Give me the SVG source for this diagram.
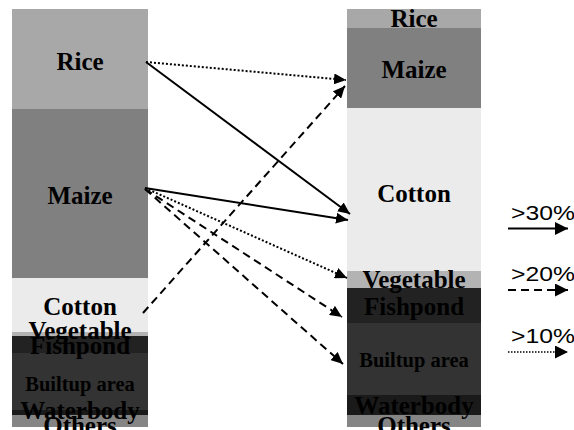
<svg xmlns="http://www.w3.org/2000/svg" width="574" height="430" viewBox="0 0 574 430">
<style>
.lbl{font-family:"Liberation Serif","Times New Roman",serif;font-weight:bold;font-size:25px;text-anchor:middle;fill:#000}
.sm{font-size:20.5px}
.leg{font-family:"Liberation Sans",Arial,sans-serif;font-size:21px;fill:#000}
.solid{stroke:#000;stroke-width:2;fill:none}
.dash{stroke:#000;stroke-width:2;fill:none;stroke-dasharray:8 5}
.dot{stroke:#000;stroke-width:2;fill:none;stroke-dasharray:2 2}
.ldot{stroke:#000;stroke-width:1.5;fill:none;stroke-dasharray:1.5 1.5}
</style>
<defs>
<marker id="ah" markerUnits="userSpaceOnUse" markerWidth="13" markerHeight="11" refX="12" refY="5.5" orient="auto">
<path d="M0,0 L12,5.5 L0,11 z" fill="#000"/>
</marker>
<marker id="lah" markerUnits="userSpaceOnUse" markerWidth="14" markerHeight="13" refX="13" refY="6.5" orient="auto">
<path d="M0,0 L13,6.5 L0,13 z" fill="#000"/>
</marker>
</defs>
<rect width="574" height="430" fill="#fff"/>
<g id="left-bar">
<g id="L-rice"><rect x="12" y="9" width="136" height="100" fill="#a8a8a8"/><text class="lbl" x="80" y="70">Rice</text></g>
<g id="L-maize"><rect x="12" y="109" width="136" height="169" fill="#808080"/><text class="lbl" x="80" y="204">Maize</text></g>
<g id="L-cotton"><rect x="12" y="278" width="136" height="54" fill="#ebebeb"/><text class="lbl" x="80" y="315">Cotton</text></g>
<g id="L-vegetable"><rect x="12" y="332" width="136" height="4" fill="#b3b3b3"/></g>
<g id="L-fishpond"><rect x="12" y="336" width="136" height="17" fill="#222"/></g>
<g id="L-builtup"><rect x="12" y="353" width="136" height="57" fill="#333"/></g>
<g id="L-waterbody"><rect x="12" y="410" width="136" height="5" fill="#1a1a1a"/></g>
<g id="L-others"><rect x="12" y="415" width="136" height="12" fill="#858585"/></g>
<text class="lbl" x="80" y="339">Vegetable</text>
<text class="lbl" x="80" y="353.5">Fishpond</text>
<text class="lbl sm" x="80" y="391">Builtup area</text>
<text class="lbl" x="80" y="419">Waterbody</text>
<text class="lbl" x="80" y="434">Others</text>
</g>
<g id="right-bar">
<g id="R-rice"><rect x="347" y="9" width="134" height="19" fill="#a8a8a8"/></g>
<g id="R-maize"><rect x="347" y="28" width="134" height="80" fill="#808080"/><text class="lbl" x="414" y="77.5">Maize</text></g>
<g id="R-cotton"><rect x="347" y="108" width="134" height="163" fill="#ebebeb"/><text class="lbl" x="414" y="202">Cotton</text></g>
<g id="R-vegetable"><rect x="347" y="271" width="134" height="17" fill="#b3b3b3"/></g>
<g id="R-fishpond"><rect x="347" y="288" width="134" height="35" fill="#222"/></g>
<g id="R-builtup"><rect x="347" y="323" width="134" height="72" fill="#333"/></g>
<g id="R-waterbody"><rect x="347" y="395" width="134" height="20" fill="#1a1a1a"/></g>
<g id="R-others"><rect x="347" y="415" width="134" height="12" fill="#858585"/></g>
<text class="lbl" x="414" y="26.5">Rice</text>
<text class="lbl" x="414" y="288">Vegetable</text>
<text class="lbl" x="414" y="315">Fishpond</text>
<text class="lbl sm" x="414" y="367">Builtup area</text>
<text class="lbl" x="414" y="413.5">Waterbody</text>
<text class="lbl" x="414" y="434">Others</text>
</g>
<g id="connectors">
<line class="dot" x1="146" y1="62" x2="346" y2="80" marker-end="url(#ah)"/>
<line class="solid" x1="146" y1="62" x2="350" y2="214" marker-end="url(#ah)"/>
<line class="solid" x1="145" y1="188" x2="348" y2="220" marker-end="url(#ah)"/>
<line class="dot" x1="145" y1="188" x2="347" y2="278" marker-end="url(#ah)"/>
<line class="dash" x1="145" y1="189" x2="342" y2="317" marker-end="url(#ah)"/>
<line class="dash" x1="145" y1="189" x2="343" y2="364" marker-end="url(#ah)"/>
<line class="dash" x1="143" y1="313" x2="345" y2="86" marker-end="url(#ah)"/>
</g>
<g id="legend">
<text class="leg" x="511" y="219.5" textLength="64" lengthAdjust="spacingAndGlyphs">&gt;30%</text>
<line class="solid" x1="508" y1="228.5" x2="568" y2="228.5" marker-end="url(#lah)"/>
<text class="leg" x="511" y="281" textLength="64" lengthAdjust="spacingAndGlyphs">&gt;20%</text>
<line class="dash" x1="508" y1="290" x2="568" y2="290" marker-end="url(#lah)"/>
<text class="leg" x="511" y="342.5" textLength="64" lengthAdjust="spacingAndGlyphs">&gt;10%</text>
<line class="ldot" x1="508" y1="352" x2="568" y2="352" marker-end="url(#lah)"/>
</g>
</svg>
